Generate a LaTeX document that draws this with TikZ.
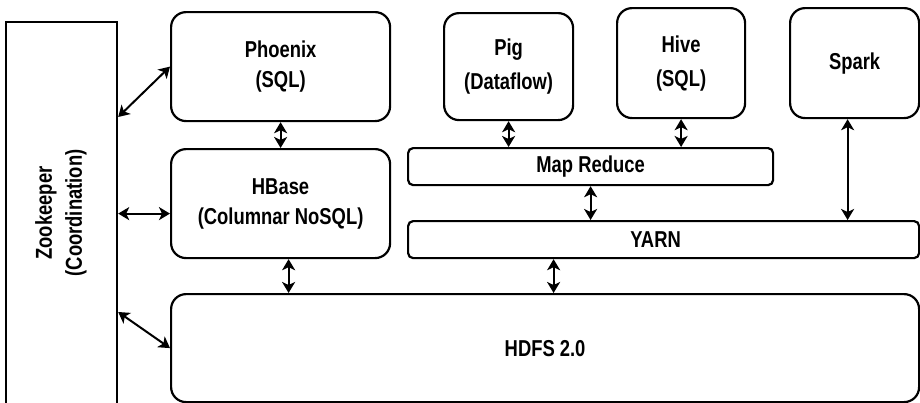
\documentclass[tikz,border=0pt]{standalone}
\usepackage{fontspec}
\setmainfont[FakeStretch=0.8]{Liberation Sans}
\usetikzlibrary{arrows.meta}

\tikzset{
  lbl/.style={align=center, font=\fontsize{23}{30}\selectfont\bfseries},
  blk/.style={draw, line width=2.2pt, rounded corners=15pt, anchor=north west,
    inner sep=0pt, lbl},
  tall/.style={font=\fontsize{23}{34}\selectfont\bfseries},
  bar/.style={blk, rounded corners=5pt},
  link/.style={{Stealth[length=11pt,width=13pt,inset=3pt]}-{Stealth[length=11pt,width=13pt,inset=3pt]}, line width=2pt}
}

\begin{document}
\begin{tikzpicture}[x=1pt, y=-1pt]
      \path[use as bounding box] (0, 0) rectangle (920, 402);

      % coordination
      \node[blk, rounded corners=0pt, minimum width=111pt, minimum height=390pt] (zoo) at (5, 21) {};
      \node[rotate=90, lbl] (zootxt) at (61, 213) {Zookeeper\\(Coordination)};

      % storage side
      \node[blk, minimum width=219pt, minimum height=109pt] (phoenix) at (170, 11) {Phoenix\\(SQL)};
      \node[blk, minimum width=219pt, minimum height=109pt] (hbase) at (170, 148) {HBase\\(Columnar NoSQL)};
      \node[blk, minimum width=748pt, minimum height=108pt] (hdfs) at (170, 293) {HDFS 2.0};

      % processing side
      \node[blk, tall, minimum width=129pt, minimum height=107pt] (pig) at (443, 12) {Pig\\(Dataflow)};
      \node[blk, tall, minimum width=128pt, minimum height=110pt] (hive) at (616, 7) {Hive\\(SQL)};
      \node[blk, minimum width=129pt, minimum height=110pt] (spark) at (789, 7) {Spark};
      \node[bar, minimum width=365pt, minimum height=37pt] (mapred) at (407, 147) {Map Reduce};
      \node[bar, minimum width=511pt, minimum height=37pt] (yarn) at (407, 220) {\hspace*{-16pt}YARN};

      % anchor points
      \coordinate (z1) at ([yshift=-96pt]zoo.north east);
      \coordinate (z3) at ([yshift=-291pt]zoo.north east);
      \coordinate (hb) at ([yshift=-10pt]hbase.west);
      \coordinate (hs) at ([xshift=8pt]hbase.south);
      \coordinate (sp) at ([xshift=-7pt]spark.south);
      \coordinate (ys) at ([xshift=-110pt]yarn.south);

      % arrows
      \draw[link] (z1) -- (phoenix.west);
      \draw[link] (hb -| zoo.east) -- (hb);
      \draw[link] (z3) -- (hdfs.west);
      \draw[link] (phoenix.south) -- (hbase.north);
      \draw[link] (hs) -- (hs |- hdfs.north);
      \draw[link] (pig.south) -- (pig.south |- mapred.north);
      \draw[link] (hive.south) -- (hive.south |- mapred.north);
      \draw[link] (mapred.south) -- (mapred.south |- yarn.north);
      \draw[link] (sp) -- (sp |- yarn.north);
      \draw[link] (ys) -- (ys |- hdfs.north);
\end{tikzpicture}
\end{document}
